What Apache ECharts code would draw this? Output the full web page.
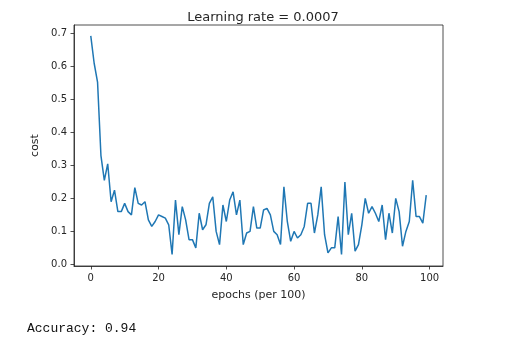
<!DOCTYPE html>
<html>
<head>
<meta charset="utf-8">
<script src="https://cdn.jsdelivr.net/npm/echarts@6/dist/echarts.min.js"></script>
<style>
  html, body { margin: 0; padding: 0; background: #fff; }
  #chart { width: 514px; height: 347px; }
</style>
</head>
<body>
<div id="chart"></div>
<script>
// Cost recorded every 100 epochs during training
const epochs = Array.from({ length: 100 }, (_, i) => i);
const costs = [
  0.693, 0.61, 0.553, 0.33, 0.255, 0.305, 0.19, 0.225, 0.16, 0.16,
  0.185, 0.16, 0.15, 0.233, 0.185, 0.18, 0.19, 0.135, 0.115, 0.13,
  0.15, 0.145, 0.14, 0.12, 0.03, 0.195, 0.09, 0.175, 0.135, 0.075,
  0.075, 0.05, 0.155, 0.105, 0.12, 0.185, 0.205, 0.10, 0.06, 0.18,
  0.13, 0.195, 0.22, 0.15, 0.195, 0.06, 0.095, 0.10, 0.175, 0.11,
  0.11, 0.165, 0.17, 0.15, 0.10, 0.09, 0.06, 0.235, 0.13, 0.07,
  0.10, 0.08, 0.09, 0.115, 0.185, 0.185, 0.095, 0.15, 0.235, 0.09,
  0.035, 0.05, 0.05, 0.145, 0.03, 0.25, 0.09, 0.155, 0.04, 0.06,
  0.12, 0.2, 0.155, 0.175, 0.155, 0.13, 0.18, 0.075, 0.155, 0.095,
  0.2, 0.16, 0.055, 0.10, 0.13, 0.255, 0.145, 0.145, 0.125, 0.21
];
const xTicks = [0, 20, 40, 60, 80, 100];
const yTicks = [0.0, 0.1, 0.2, 0.3, 0.4, 0.5, 0.6, 0.7];

const titleText = 'Learning rate = 0.0007';
const accuracyText = 'Accuracy: 0.94';

const chart = echarts.init(document.getElementById('chart'), null, { renderer: 'canvas' });
const tickFont = { fontFamily: 'DejaVu Sans', fontSize: 10, color: '#262626' };
const axisInk = { color: '#222', width: 0.8 };

chart.setOption({
  animation: false,
  backgroundColor: '#fff',
  title: {
    text: titleText,
    left: 258, top: 6, textAlign: 'center',
    textStyle: { fontFamily: 'DejaVu Sans', fontSize: 13, fontWeight: 'normal', color: '#262626' }
  },
  grid: {
    left: 74, top: 25, right: 71, bottom: 81,
    show: true, borderColor: '#222', borderWidth: 0.8, backgroundColor: '#fff'
  },
  xAxis: {
    type: 'value',
    min: -4.95, max: 103.95,
    name: 'epochs (per 100)',
    nameLocation: 'middle', nameGap: 24,
    nameTextStyle: { fontFamily: 'DejaVu Sans', fontSize: 11, color: '#262626' },
    splitLine: { show: false },
    axisLine: { show: true, onZero: false, lineStyle: axisInk },
    axisTick: { show: true, inside: false, length: 3.5, customValues: xTicks, lineStyle: axisInk },
    axisLabel: { ...tickFont, margin: 7, customValues: xTicks, formatter: v => String(v) }
  },
  yAxis: {
    type: 'value',
    min: -0.005, max: 0.726,
    name: 'cost',
    nameLocation: 'middle', nameGap: 23, nameRotate: 90,
    nameTextStyle: { fontFamily: 'DejaVu Sans', fontSize: 11, color: '#262626' },
    splitLine: { show: false },
    axisLine: { show: true, onZero: false, lineStyle: axisInk },
    axisTick: { show: true, inside: false, length: 3.5, customValues: yTicks, lineStyle: axisInk },
    axisLabel: { ...tickFont, margin: 7, customValues: yTicks, formatter: v => v.toFixed(1) }
  },
  series: [{
    type: 'line',
    data: epochs.map((e, i) => [e, costs[i]]),
    showSymbol: false,
    lineStyle: { color: '#1f77b4', width: 1.5 },
    itemStyle: { color: '#1f77b4' }
  }],
  graphic: [{
    type: 'text',
    left: 27, top: 322,
    style: { text: accuracyText, font: '13px "Liberation Mono", monospace', fill: '#111' }
  }]
});
</script>
</body>
</html>
